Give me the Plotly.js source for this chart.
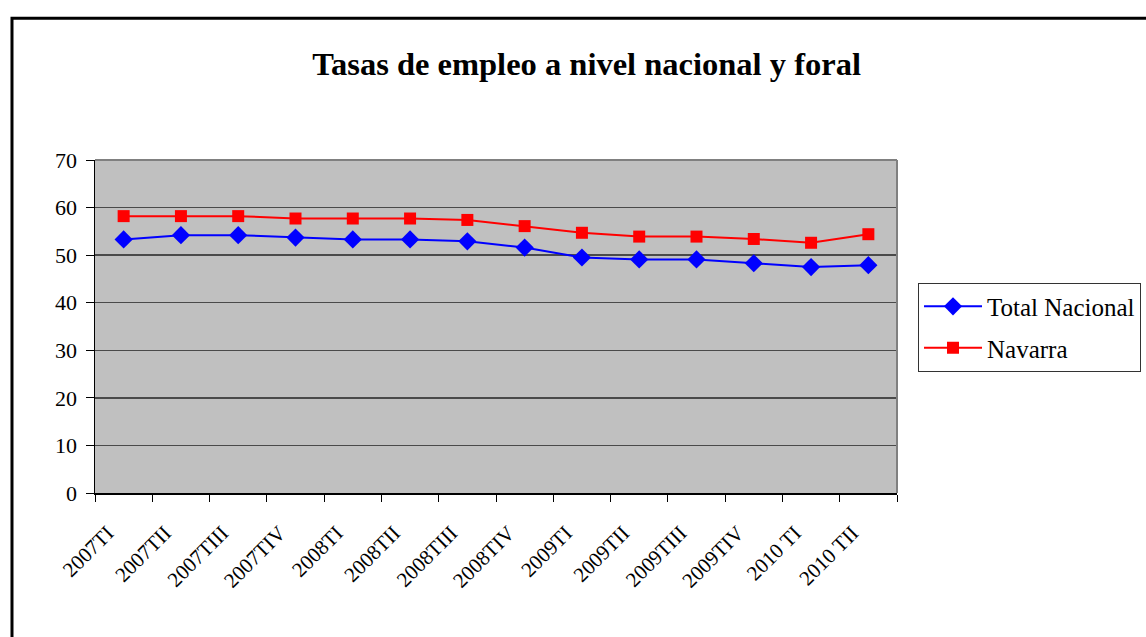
<!DOCTYPE html>
<html>
<head>
<meta charset="utf-8">
<script src="https://cdn.plot.ly/plotly-3.0.1.min.js"></script>
<style>html,body{margin:0;padding:0;background:#fff;}#chart{width:1146px;height:637px;}</style>
</head>
<body>
<div id="chart"></div>
<script>
const categories = ["2007TI","2007TII","2007TIII","2007TIV","2008TI","2008TII","2008TIII","2008TIV","2009TI","2009TII","2009TIII","2009TIV","2010 TI","2010 TII"];
const totalNacional = [53.3, 54.2, 54.2, 53.7, 53.3, 53.3, 52.9, 51.6, 49.5, 49.1, 49.1, 48.3, 47.5, 47.9];
const navarra = [58.2, 58.2, 58.2, 57.7, 57.7, 57.7, 57.4, 56.1, 54.7, 53.9, 53.9, 53.4, 52.6, 54.4];
const yTicks = [0, 10, 20, 30, 40, 50, 60, 70];

const serif = "'Liberation Serif', 'Times New Roman', serif";

const traces = [
  {
    x: categories, y: totalNacional, name: "Total Nacional", type: "scatter", mode: "lines+markers",
    line: {color: "#0000ff", width: 2}, marker: {symbol: "diamond", size: 14, color: "#0000ff"},
    legendgroup: "a"
  },
  {
    x: categories, y: navarra, name: "Navarra", type: "scatter", mode: "lines+markers",
    line: {color: "#ff0000", width: 2}, marker: {symbol: "square", size: 12, color: "#ff0000"},
    legendgroup: "b"
  }
];

const layout = {
  width: 1146, height: 637,
  margin: {l: 95, r: 249, t: 159.5, b: 143.7, pad: 0, autoexpand: false},
  paper_bgcolor: "#ffffff",
  plot_bgcolor: "#c0c0c0",
  font: {family: serif, color: "#000", size: 20},
  title: {
    text: "<b>Tasas de empleo a nivel nacional y foral</b>",
    font: {family: serif, size: 32.5, color: "#000"},
    x: 0.613, xref: "paper", xanchor: "center",
    y: 0.9, yref: "container", yanchor: "middle"
  },
  xaxis: {
    type: "category",
    range: [-0.5, 13.5],
    tickson: "boundaries",
    ticks: "outside", ticklen: 7, tickwidth: 1, tickcolor: "#000",
    showline: true, linecolor: "#000", linewidth: 1.5,
    showgrid: false, zeroline: false,
    tickangle: -45,
    tickfont: {family: serif, size: 21, color: "#000"},
    ticklabelstandoff: 18,
    ticklabelshift: -16,
    automargin: false,
    fixedrange: true
  },
  yaxis: {
    range: [0, 70],
    tickvals: yTicks,
    ticktext: yTicks.map(String),
    ticks: "outside", ticklen: 8, tickwidth: 1, tickcolor: "#000",
    showline: true, linecolor: "#000", linewidth: 1.5,
    showgrid: true, gridcolor: "#4a4a4a", gridwidth: 1.5,
    zeroline: false,
    tickfont: {family: serif, size: 22, color: "#000"},
    ticklabelstandoff: 4,
    automargin: false,
    fixedrange: true
  },
  legend: {
    x: 1.0262, xanchor: "left", xref: "paper",
    y: 0.632, yanchor: "top", yref: "paper",
    bgcolor: "#ffffff", bordercolor: "#333", borderwidth: 1,
    font: {family: serif, size: 25, color: "#000"},
    itemwidth: 58,
    tracegroupgap: 6,
    traceorder: "grouped"
  },
  showlegend: true,
  shapes: [
    {type: "line", xref: "paper", yref: "paper", x0: 0, x1: 1, y0: 1, y1: 1, line: {color: "#808080", width: 2}, layer: "above"},
    {type: "line", xref: "paper", yref: "paper", x0: 1, x1: 1, y0: 0, y1: 1, line: {color: "#808080", width: 2}, layer: "above"},
    {type: "rect", xref: "paper", yref: "paper", x0: -0.1035, x1: 1.6, y0: -1, y1: 1.426, line: {color: "#000", width: 3}, layer: "above"}
  ]
};

Plotly.newPlot("chart", traces, layout, {displayModeBar: false, staticPlot: true});
</script>
</body>
</html>
